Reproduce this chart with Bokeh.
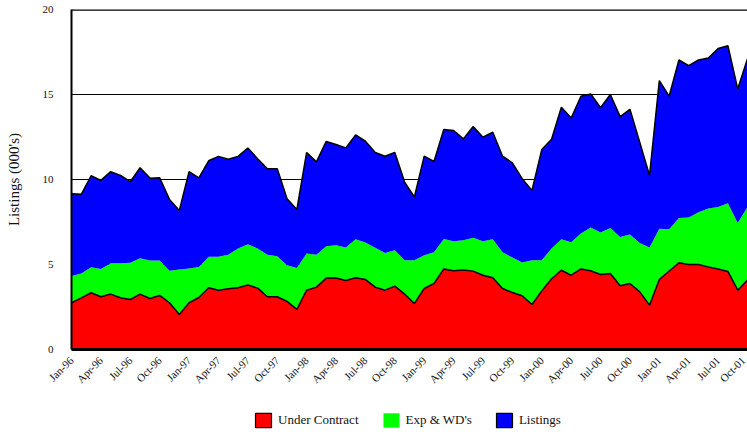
from bokeh.plotting import figure
from bokeh.layouts import column
from bokeh.models import (ColumnDataSource, Range1d, FixedTicker, Legend, LegendItem, Span)
from bokeh.transform import stack
from bokeh.embed import file_html
from bokeh.resources import INLINE
import math

# Monthly data, Jan-96 .. Oct-01 (thousands)
under_contract = [2.75, 3.04, 3.34, 3.10, 3.26, 3.04, 2.94, 3.26, 3.00, 3.18, 2.75, 2.06,
                  2.75, 3.06, 3.63, 3.49, 3.57, 3.63, 3.80, 3.61, 3.10, 3.10, 2.83, 2.36,
                  3.49, 3.67, 4.20, 4.20, 4.06, 4.22, 4.12, 3.67, 3.49, 3.73, 3.26, 2.71,
                  3.59, 3.88, 4.74, 4.63, 4.68, 4.61, 4.37, 4.22, 3.59, 3.35, 3.16, 2.65,
                  3.45, 4.16, 4.66, 4.37, 4.74, 4.63, 4.41, 4.47, 3.75, 3.88, 3.39, 2.61,
                  4.12, 4.62, 5.10, 5.00, 5.00, 4.86, 4.74, 4.59, 3.49, 4.08]
exp_wd = [1.58, 1.43, 1.50, 1.64, 1.82, 2.04, 2.16, 2.11, 2.23, 2.05, 1.88, 2.64,
          2.01, 1.80, 1.82, 1.96, 2.01, 2.31, 2.39, 2.33, 2.48, 2.39, 2.13, 2.44,
          2.15, 1.91, 1.87, 1.93, 1.94, 2.26, 2.17, 2.31, 2.19, 2.11, 1.99, 2.54,
          1.96, 1.84, 1.76, 1.74, 1.75, 1.97, 2.00, 2.26, 2.13, 2.06, 1.96, 2.60,
          1.80, 1.78, 1.82, 1.94, 2.08, 2.54, 2.47, 2.68, 2.87, 2.88, 2.88, 3.39,
          2.99, 2.45, 2.64, 2.76, 3.07, 3.44, 3.64, 4.01, 3.95, 4.30]
listings = [4.83, 4.66, 5.38, 5.21, 5.38, 5.16, 4.77, 5.32, 4.85, 4.87, 4.20, 3.47,
            5.70, 5.24, 5.65, 5.91, 5.62, 5.42, 5.66, 5.28, 5.05, 5.14, 3.91, 3.43,
            5.95, 5.46, 6.17, 5.93, 5.86, 6.14, 5.96, 5.61, 5.69, 5.75, 4.60, 3.72,
            5.82, 5.34, 6.44, 6.51, 5.96, 6.54, 6.12, 6.30, 5.65, 5.57, 4.93, 4.11,
            6.51, 6.43, 7.77, 7.31, 8.08, 7.86, 7.34, 7.85, 7.08, 7.37, 5.92, 4.24,
            8.71, 7.83, 9.29, 8.94, 8.96, 8.85, 9.33, 9.27, 7.89, 8.72]
tick_labels = ["Jan-96", "Apr-96", "Jul-96", "Oct-96", "Jan-97", "Apr-97", "Jul-97", "Oct-97",
               "Jan-98", "Apr-98", "Jul-98", "Oct-98", "Jan-99", "Apr-99", "Jul-99", "Oct-99",
               "Jan-00", "Apr-00", "Jul-00", "Oct-00", "Jan-01", "Apr-01", "Jul-01", "Oct-01"]
series_names = ["Under Contract", "Exp & WD's", "Listings"]
series_colors = ["#ff0000", "#00ff00", "#0000ff"]
y_ticks = [0, 5, 10, 15, 20]

n = len(under_contract)
src = ColumnDataSource(dict(x=list(range(n)), uc=under_contract, exp=exp_wd, lst=listings))

FONT = "Liberation Serif"

p = figure(width=747, height=395, output_backend="svg", toolbar_location=None,
           x_range=Range1d(0, n - 1), y_range=Range1d(0, 20),
           min_border_left=71, min_border_right=0, min_border_top=9, min_border_bottom=46)
p.outline_line_color = None
p.background_fill_color = "white"
p.border_fill_color = "white"

areas = p.varea_stack(["uc", "exp", "lst"], x="x", color=series_colors, source=src)
p.line(x="x", y=stack("uc"), source=src, line_color="black", line_width=1.5)
p.line(x="x", y=stack("uc", "exp", "lst"), source=src, line_color="black", line_width=1.5)

p.add_layout(Span(location=20, dimension="width", line_color="black", line_width=2.5))

# axes
xa = p.xaxis[0]
tick_pos = list(range(0, n, 3))
xa.ticker = FixedTicker(ticks=tick_pos)
xa.major_label_overrides = {t: lab for t, lab in zip(tick_pos, tick_labels)}
xa.major_label_orientation = math.pi / 4
xa.major_tick_line_color = None
xa.minor_tick_line_color = None
xa.major_tick_out = 0
xa.major_label_standoff = 9
xa.axis_line_color = "black"
xa.axis_line_width = 3
xa.major_label_text_font = FONT
xa.major_label_text_font_size = "11px"
xa.major_label_text_color = "#111111"

ya = p.yaxis[0]
ya.ticker = FixedTicker(ticks=y_ticks)
ya.major_tick_line_color = None
ya.minor_tick_line_color = None
ya.major_tick_out = 0
ya.major_label_standoff = 18
ya.axis_line_color = "black"
ya.axis_line_width = 2
ya.major_label_text_font = FONT
ya.major_label_text_font_size = "11px"
ya.major_label_text_color = "#111111"
ya.axis_label = "Listings (000's)"
ya.axis_label_text_font = FONT
ya.axis_label_text_font_size = "15px"
ya.axis_label_text_font_style = "normal"
ya.axis_label_text_color = "#111111"
ya.axis_label_standoff = 18

p.xgrid.grid_line_color = None
p.ygrid.grid_line_color = "black"
p.ygrid.grid_line_width = 1.2

# legend strip below the chart
lf = figure(width=747, height=40, output_backend="svg", toolbar_location=None,
            x_range=Range1d(0, 1), y_range=Range1d(0, 1),
            min_border_left=0, min_border_right=0, min_border_top=0, min_border_bottom=0)
lf.outline_line_color = None
lf.axis.visible = False
lf.grid.visible = False
proxy_src = ColumnDataSource(dict(l=[5], r=[6], b=[5], t=[6]))  # outside visible range
proxies = []
for name, col in zip(series_names, series_colors):
    lc = None if col == "#00ff00" else "black"
    r = lf.quad(left="l", right="r", bottom="b", top="t", source=proxy_src,
                fill_color=col, line_color=lc, line_width=1.2)
    proxies.append(LegendItem(label=name, renderers=[r]))

legend = Legend(items=proxies, orientation="horizontal", location=(182, 6),
                glyph_width=20, glyph_height=18, label_standoff=5, spacing=22,
                padding=0, margin=0, border_line_color=None, background_fill_alpha=0,
                label_text_font=FONT, label_text_font_size="13px", label_text_color="#111111")
lf.add_layout(legend, "center")

open("out.html", "w").write(file_html(column(p, lf, spacing=0), INLINE))
